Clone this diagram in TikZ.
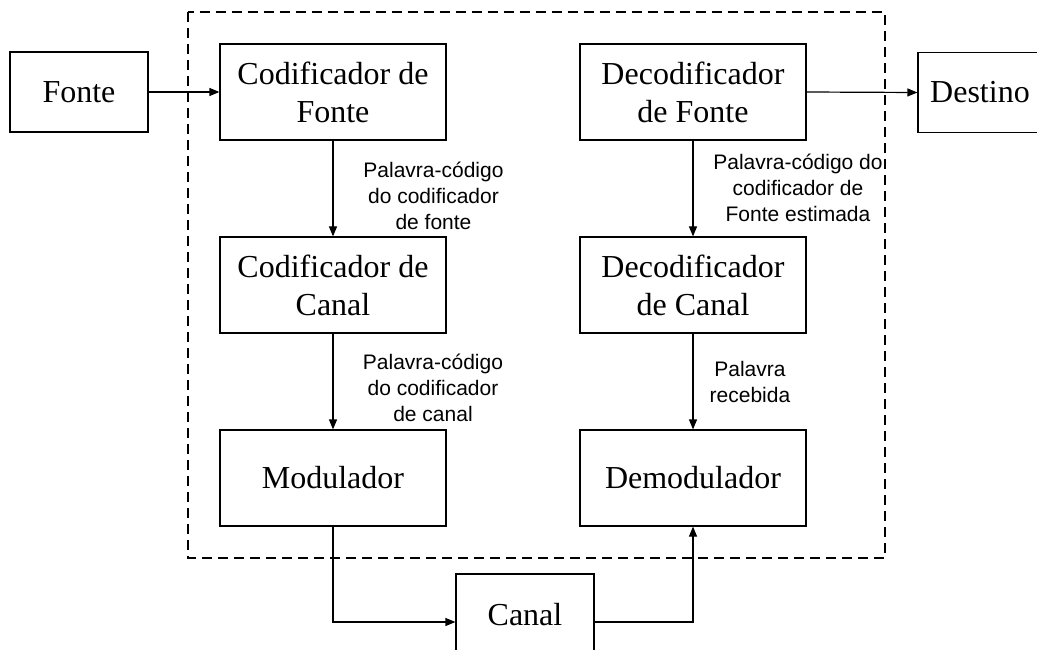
\documentclass[tikz,border=0pt]{standalone}
\usepackage{fontspec}
\setmainfont{Liberation Serif}
\newfontfamily\labfont{Liberation Sans}
\usetikzlibrary{arrows.meta}
\begin{document}
\begin{tikzpicture}[x=1pt,y=-1pt,
  blk/.style={draw, line width=1.2pt, rectangle, inner sep=0pt, align=center,
    font=\fontsize{32}{38}\selectfont},
  lab/.style={inner sep=0pt, align=center, font=\labfont\fontsize{21}{26}\selectfont},
  conn/.style={line width=1.2pt, -{Triangle[length=10pt,width=8pt]}}]
\clip (0,0) rectangle (1037,650);
\fill[white] (0,0) rectangle (1037,650);
\draw[line width=1.2pt, dash pattern=on 10pt off 6pt] (188,12) rectangle (885,558);
\node[blk, minimum width=138pt, minimum height=80pt] (fonte) at (79,92) {Fonte};
\node[blk, minimum width=226pt, minimum height=96pt] (cf) at (333,92) {Codificador de\\Fonte};
\node[blk, minimum width=226pt, minimum height=96pt] (df) at (693,92) {Decodificador\\de Fonte};
\node[blk, minimum width=124pt, minimum height=80pt] (dest) at (980,92.5) {Destino};
\node[blk, minimum width=226pt, minimum height=96pt] (cc) at (333,285) {Codificador de\\Canal};
\node[blk, minimum width=226pt, minimum height=96pt] (dc) at (693,285) {Decodificador\\de Canal};
\node[blk, minimum width=226pt, minimum height=96pt] (mod) at (333,478) {Modulador};
\node[blk, minimum width=226pt, minimum height=96pt] (dem) at (693,478) {Demodulador};
\node[blk, minimum width=138pt, minimum height=96pt, text depth=16pt] (canal) at (525,622) {Canal};
\draw[conn] (fonte.east) -- (cf.west);
\draw[conn] (df.east) -- (dest.west);
\draw[conn] (cf.south) -- (cc.north);
\draw[conn] (cc.south) -- (mod.north);
\draw[conn] (df.south) -- (dc.north);
\draw[conn] (dc.south) -- (dem.north);
\draw[conn] (mod.south) |- (canal.west);
\draw[conn] (canal.east) -| (dem.south);
\node[lab] (l1) at (433.5,195.5) {Palavra-código\\do codificador\\de fonte};
\node[lab] (l2) at (798,188) {Palavra-código do\\codificador de\\Fonte estimada};
\node[lab] (l3) at (433,388) {Palavra-código\\do codificador\\de canal};
\node[lab] (l4) at (750,382) {Palavra\\recebida};
\end{tikzpicture}
\end{document}
